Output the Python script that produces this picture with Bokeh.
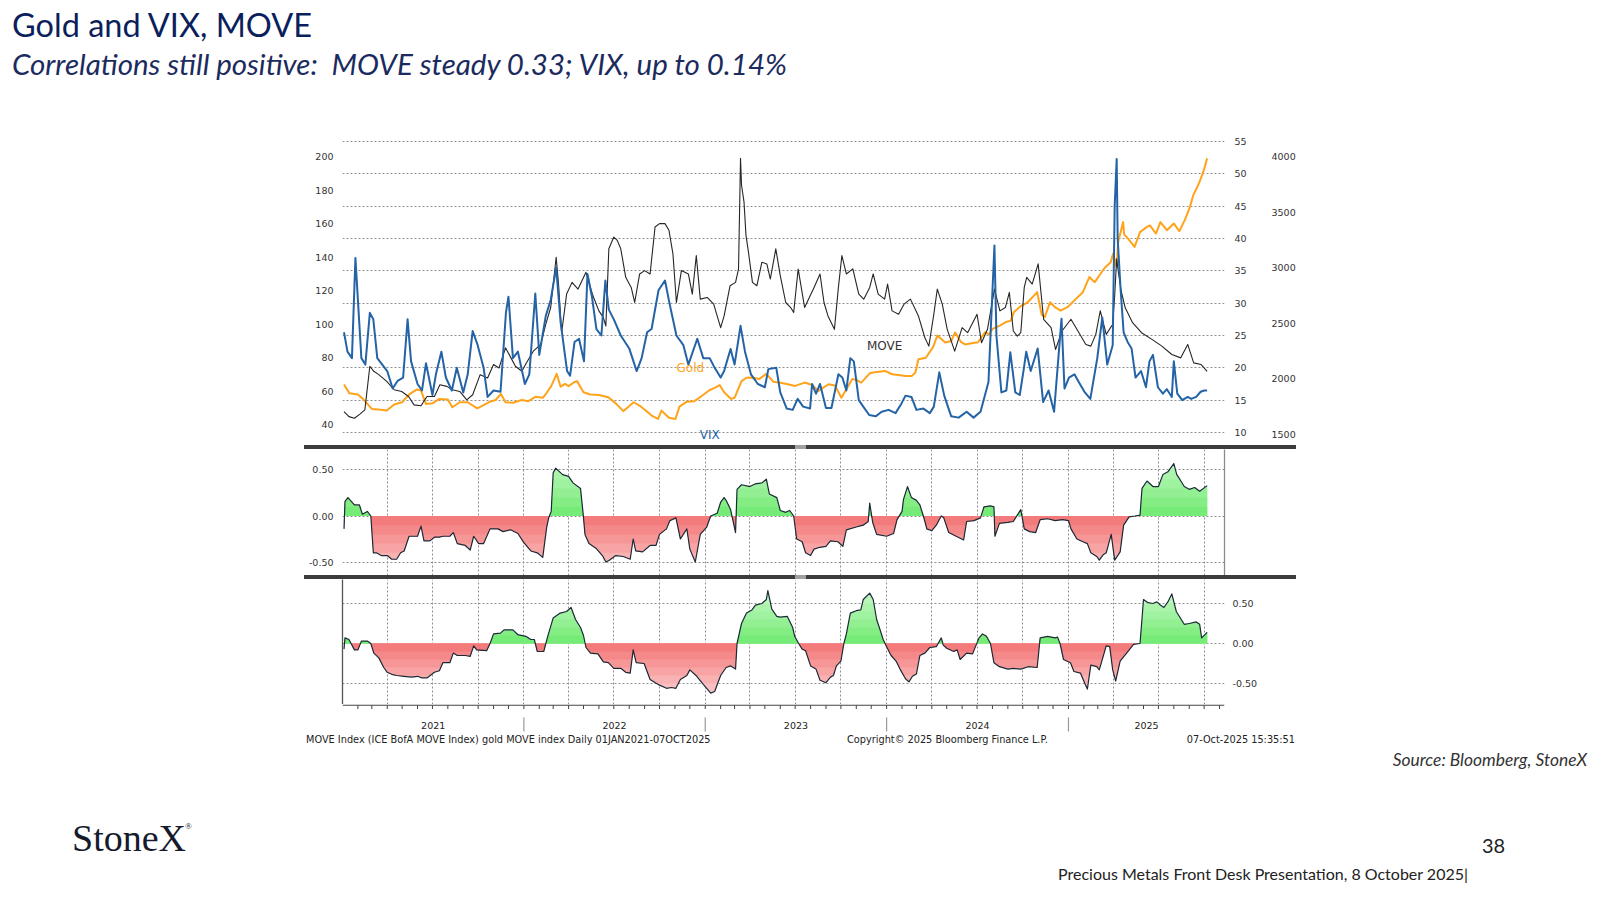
import numpy as np
import pandas as pd
from bokeh.plotting import figure
from bokeh.models import (Range1d, LinearAxis, FixedTicker, Grid, NumeralTickFormatter,
                          Div, Spacer)
from bokeh.layouts import column, row
from bokeh.core.properties import value
from bokeh.embed import file_html
from bokeh.resources import INLINE

# ------------------------------------------------------------------ data
vix_dates = [
    "2021-01-04","2021-01-11","2021-01-20","2021-01-27","2021-02-01","2021-02-08","2021-02-16","2021-02-25",
    "2021-03-04","2021-03-12","2021-03-22","2021-04-01","2021-04-12","2021-04-22","2021-05-03","2021-05-12",
    "2021-05-19","2021-06-01","2021-06-10","2021-06-18","2021-07-01","2021-07-08","2021-07-19","2021-07-28",
    "2021-08-09","2021-08-19","2021-09-01","2021-09-10","2021-09-20","2021-09-30","2021-10-12","2021-10-20",
    "2021-11-01","2021-11-15","2021-11-26","2021-12-01","2021-12-10","2021-12-20","2022-01-03","2022-01-12",
    "2022-01-24","2022-02-01","2022-02-14","2022-02-24","2022-03-07","2022-03-16","2022-03-29","2022-04-04",
    "2022-04-13","2022-04-22","2022-05-02","2022-05-09","2022-05-18","2022-05-27","2022-06-06","2022-06-14",
    "2022-06-21","2022-07-01","2022-07-15","2022-08-01","2022-08-16","2022-08-26","2022-09-06","2022-09-15",
    "2022-09-29","2022-10-12","2022-10-21","2022-11-04","2022-11-18","2022-11-28","2022-12-16","2022-12-28",
    "2023-01-10","2023-01-20","2023-02-01","2023-02-08","2023-02-21","2023-03-01","2023-03-13","2023-03-22",
    "2023-04-03","2023-04-17","2023-05-01","2023-05-08","2023-05-24","2023-06-01","2023-06-14","2023-06-26",
    "2023-07-06","2023-07-17","2023-07-31","2023-08-04","2023-08-12","2023-08-20","2023-09-01","2023-09-12",
    "2023-09-26","2023-10-04","2023-10-12","2023-10-20","2023-10-27","2023-11-06","2023-11-15","2023-11-27",
    "2023-12-10","2023-12-22","2024-01-05","2024-01-19","2024-01-31","2024-02-08","2024-02-20","2024-03-01",
    "2024-03-15","2024-03-28","2024-04-05","2024-04-16","2024-04-26","2024-05-10","2024-05-25","2024-06-10",
    "2024-06-24","2024-07-08","2024-07-24","2024-08-05","2024-08-09","2024-08-19","2024-08-29","2024-09-06",
    "2024-09-16","2024-09-25","2024-10-03","2024-10-08","2024-10-17","2024-10-31","2024-11-11","2024-11-22",
    "2024-12-03","2024-12-18","2024-12-24","2025-01-02","2025-01-13","2025-01-24","2025-02-03","2025-02-14",
    "2025-02-28","2025-03-10","2025-03-20","2025-03-31","2025-04-04","2025-04-08","2025-04-10","2025-04-16",
    "2025-04-22","2025-04-30","2025-05-08","2025-05-16","2025-05-27","2025-06-06","2025-06-13","2025-06-20",
    "2025-06-30","2025-07-10","2025-07-18","2025-07-28","2025-08-01","2025-08-08","2025-08-18","2025-08-29",
    "2025-09-05","2025-09-15","2025-09-24","2025-10-01","2025-10-07"]
vix_values = [
    25.5, 22.5, 21.5, 37.0, 30.5, 21.5, 20.5, 28.5,
    27.5, 21.5, 20.5, 19.5, 16.8, 18.0, 18.5, 27.5,
    21.0, 17.5, 16.5, 20.7, 15.8, 19.0, 22.5, 18.5,
    16.5, 20.0, 16.2, 19.0, 25.7, 23.5, 20.0, 15.5,
    16.5, 16.3, 28.6, 31.0, 21.5, 22.5, 17.5, 19.0,
    31.5, 22.0, 28.0, 30.5, 35.5, 27.0, 19.5, 18.8,
    24.0, 24.5, 21.0, 34.5, 31.0, 26.0, 25.0, 33.5,
    29.0, 27.5, 25.0, 23.0, 19.5, 21.5, 25.5, 26.0,
    32.0, 33.5, 30.0, 25.0, 23.5, 20.5, 24.5, 21.5,
    21.5, 20.0, 18.5, 19.5, 22.9, 20.5, 26.5, 22.5,
    19.0, 17.5, 17.0, 19.8, 20.0, 16.2, 13.7, 13.5,
    15.2, 14.0, 13.7, 17.5, 16.0, 17.5, 13.8, 13.8,
    19.0, 18.5, 16.5, 21.5, 21.0, 15.0, 14.0, 12.7,
    12.5, 13.2, 13.5, 13.0, 14.5, 15.7, 15.5, 13.5,
    13.7, 13.0, 14.0, 19.3, 15.7, 12.5, 12.3, 13.2,
    12.3, 13.2, 17.8, 38.9, 25.0, 16.2, 16.5, 22.4,
    16.2, 15.8, 19.8, 22.5, 19.5, 23.0, 14.7, 16.5,
    13.2, 27.6, 16.8, 18.5, 19.0, 17.5, 16.2, 15.2,
    21.5, 27.8, 20.5, 23.5, 45.0, 52.3, 40.0, 32.0,
    25.5, 24.0, 23.0, 18.5, 19.5, 17.0, 21.0, 22.0,
    17.0, 16.0, 16.7, 15.5, 21.0, 16.0, 15.0, 15.5,
    15.2, 15.5, 16.3, 16.5, 16.5]

move_dates = [
    "2021-01-04","2021-01-14","2021-01-25","2021-02-05","2021-02-15","2021-02-25","2021-03-05","2021-03-15",
    "2021-03-31","2021-04-15","2021-04-30","2021-05-14","2021-05-25","2021-06-08","2021-06-20","2021-07-05",
    "2021-07-16","2021-07-30","2021-08-10","2021-08-25","2021-09-08","2021-09-20","2021-10-05","2021-10-20",
    "2021-11-01","2021-11-12","2021-11-25","2021-12-06","2021-12-15","2021-12-28","2022-01-06","2022-01-20",
    "2022-02-04","2022-02-14","2022-02-24","2022-03-07","2022-03-12","2022-03-18","2022-03-28","2022-04-08",
    "2022-04-20","2022-05-06","2022-05-20","2022-06-01","2022-06-10","2022-06-15","2022-06-21","2022-07-01",
    "2022-07-08","2022-07-15","2022-07-25","2022-08-05","2022-08-12","2022-08-22","2022-09-01","2022-09-12",
    "2022-09-22","2022-10-01","2022-10-12","2022-10-20","2022-10-28","2022-11-04","2022-11-14","2022-11-28",
    "2022-12-06","2022-12-14","2022-12-22","2023-01-05","2023-01-18","2023-02-01","2023-02-08","2023-02-20",
    "2023-03-03","2023-03-09","2023-03-13","2023-03-15","2023-03-20","2023-03-24","2023-03-29","2023-04-06",
    "2023-04-15","2023-04-25","2023-05-05","2023-05-12","2023-05-23","2023-06-01","2023-06-12","2023-06-22",
    "2023-06-28","2023-07-07","2023-07-20","2023-08-08","2023-08-20","2023-08-28","2023-09-05","2023-09-18",
    "2023-09-26","2023-10-03","2023-10-12","2023-10-25","2023-11-06","2023-11-16","2023-11-28","2023-12-05",
    "2023-12-15","2023-12-28","2024-01-03","2024-01-12","2024-01-25","2024-02-05","2024-02-18","2024-03-05",
    "2024-03-18","2024-03-26","2024-04-05","2024-04-12","2024-04-22","2024-05-02","2024-05-17","2024-06-01",
    "2024-06-12","2024-07-01","2024-07-10","2024-07-22","2024-08-05","2024-08-16","2024-08-27","2024-09-04",
    "2024-09-12","2024-09-20","2024-09-27","2024-10-04","2024-10-09","2024-10-20","2024-11-01","2024-11-12",
    "2024-11-27","2024-12-06","2024-12-19","2025-01-06","2025-01-20","2025-02-05","2025-02-15","2025-02-25",
    "2025-03-06","2025-03-18","2025-03-31","2025-04-04","2025-04-08","2025-04-11","2025-04-17","2025-04-25",
    "2025-05-10","2025-05-28","2025-06-18","2025-07-08","2025-07-28","2025-08-15","2025-08-29","2025-09-10",
    "2025-09-25","2025-10-07"]
move_values = [
    48, 45, 44, 46.5, 49, 75, 72, 70,
    66, 61, 60, 57, 52, 51.5, 57, 57,
    64, 63, 61, 60, 55, 58, 70, 68,
    76, 74, 86, 80, 75, 72, 77, 84,
    88, 100, 110, 140, 123, 95, 118, 125,
    121, 131, 117, 108, 104, 99, 145, 152,
    150, 145, 128, 122, 113, 130, 132, 130,
    158, 160, 160, 156, 142, 113, 132, 130,
    118, 141, 115, 116, 112, 98, 105, 123,
    125, 133, 199, 183, 173, 153, 143, 125,
    123, 137, 136, 127, 145, 129, 113, 110,
    107, 133, 110, 122, 130, 113, 105, 97,
    122, 141, 130, 133, 118, 115, 122, 130,
    118, 115, 124, 108, 106, 112, 115, 105,
    92, 87, 106, 121, 112, 97, 84, 98,
    95, 106, 89, 97, 121, 108, 110, 119,
    96, 93, 95, 122, 128, 124, 136, 103,
    98, 85, 96, 103, 96, 88, 87, 94,
    108, 94, 100, 117, 139, 132, 120, 110,
    101, 95, 91, 87, 82, 80, 88, 77,
    76, 72]

gold_dates = [
    "2021-01-04","2021-01-15","2021-02-01","2021-02-12","2021-03-01","2021-03-15","2021-03-31","2021-04-15",
    "2021-05-01","2021-05-15","2021-05-31","2021-06-08","2021-06-18","2021-07-01","2021-07-15","2021-08-01",
    "2021-08-10","2021-08-25","2021-09-10","2021-09-29","2021-10-10","2021-10-25","2021-11-05","2021-11-16",
    "2021-11-25","2021-12-10","2021-12-28","2022-01-10","2022-01-25","2022-02-08","2022-02-16","2022-02-25",
    "2022-03-08","2022-03-16","2022-03-25","2022-04-01","2022-04-12","2022-04-18","2022-05-01","2022-05-15",
    "2022-06-01","2022-06-20","2022-07-05","2022-07-20","2022-08-10","2022-08-25","2022-09-15","2022-09-28",
    "2022-10-05","2022-10-20","2022-11-02","2022-11-10","2022-11-25","2022-12-10","2022-12-20","2023-01-10",
    "2023-01-20","2023-01-30","2023-02-08","2023-02-22","2023-03-01","2023-03-15","2023-03-25","2023-04-06",
    "2023-04-20","2023-05-04","2023-05-18","2023-06-01","2023-06-14","2023-07-01","2023-07-20","2023-08-04",
    "2023-08-17","2023-09-06","2023-09-19","2023-10-02","2023-10-12","2023-10-24","2023-11-02","2023-11-11",
    "2023-11-28","2023-12-08","2023-12-29","2024-01-12","2024-01-25","2024-02-08","2024-02-21","2024-02-28",
    "2024-03-05","2024-03-20","2024-04-04","2024-04-12","2024-04-28","2024-05-10","2024-05-18","2024-05-30",
    "2024-06-07","2024-06-20","2024-07-03","2024-07-17","2024-07-25","2024-08-01","2024-08-16","2024-08-27",
    "2024-09-07","2024-09-13","2024-09-27","2024-10-10","2024-10-30","2024-11-08","2024-11-14","2024-11-25",
    "2024-12-05","2024-12-16","2024-12-30","2025-01-16","2025-01-30","2025-02-12","2025-02-23","2025-03-04",
    "2025-03-15","2025-03-27","2025-04-01","2025-04-08","2025-04-11","2025-04-21","2025-04-23","2025-05-01",
    "2025-05-14","2025-05-25","2025-06-08","2025-06-14","2025-06-26","2025-07-05","2025-07-18","2025-08-01",
    "2025-08-12","2025-08-23","2025-09-02","2025-09-09","2025-09-16","2025-09-22","2025-09-30","2025-10-07"]
gold_values = [
    1950, 1870, 1860, 1816, 1730, 1725, 1715, 1770,
    1790, 1860, 1905, 1895, 1775, 1780, 1820, 1815,
    1745, 1790, 1790, 1735, 1760, 1795, 1810, 1865,
    1790, 1785, 1810, 1800, 1840, 1830, 1875, 1935,
    2045, 1930, 1955, 1935, 1970, 1980, 1880, 1860,
    1855, 1835, 1780, 1710, 1790, 1750, 1670, 1640,
    1715, 1650, 1640, 1750, 1795, 1800, 1830, 1900,
    1920, 1945, 1880, 1820, 1830, 1980, 2010, 2012,
    2000, 2045, 1975, 1965, 1955, 1937, 1967, 1945,
    1892, 1952, 1940, 1831, 1906, 2000, 1990, 1967,
    2050, 2060, 2072, 2042, 2035, 2027, 2027, 2057,
    2177, 2190, 2290, 2390, 2328, 2340, 2418, 2330,
    2310, 2320, 2330, 2420, 2400, 2450, 2479, 2509,
    2524, 2600, 2655, 2685, 2780, 2580, 2554, 2690,
    2645, 2614, 2645, 2720, 2780, 2916, 2870, 2930,
    3000, 3050, 3127, 3006, 3232, 3410, 3300, 3262,
    3187, 3320, 3367, 3380, 3307, 3410, 3337, 3398,
    3328, 3428, 3540, 3650, 3714, 3774, 3870, 3985]

corr_move_dates = [
    "2021-01-04","2021-01-06","2021-01-12","2021-01-25","2021-02-04","2021-02-10","2021-02-20","2021-02-27",
    "2021-03-04","2021-03-10","2021-03-20","2021-04-01","2021-04-10","2021-04-20","2021-04-28","2021-05-05",
    "2021-05-15","2021-06-01","2021-06-08","2021-06-14","2021-06-26","2021-07-05","2021-07-15","2021-07-22",
    "2021-08-05","2021-08-12","2021-08-20","2021-09-05","2021-09-15","2021-09-22","2021-10-02","2021-10-12",
    "2021-10-25","2021-11-10","2021-11-20","2021-12-05","2021-12-20","2022-01-01","2022-01-15","2022-01-28",
    "2022-02-08","2022-02-16","2022-02-20","2022-02-25","2022-03-01","2022-03-06","2022-03-20","2022-04-01",
    "2022-04-10","2022-04-25","2022-04-30","2022-05-04","2022-05-12","2022-05-26","2022-06-08","2022-06-15",
    "2022-06-22","2022-07-05","2022-07-20","2022-08-03","2022-08-09","2022-08-14","2022-08-28","2022-09-12",
    "2022-09-24","2022-10-01","2022-10-15","2022-10-22","2022-11-03","2022-11-12","2022-11-25","2022-12-01",
    "2022-12-12","2022-12-22","2023-01-04","2023-01-12","2023-01-25","2023-02-01","2023-02-08","2023-02-12",
    "2023-02-21","2023-03-03","2023-03-06","2023-03-15","2023-04-01","2023-04-12","2023-04-25","2023-05-04",
    "2023-05-10","2023-05-25","2023-06-01","2023-06-12","2023-06-20","2023-06-28","2023-07-04","2023-07-15",
    "2023-07-22","2023-08-01","2023-08-08","2023-08-20","2023-09-01","2023-09-10","2023-09-25","2023-10-05",
    "2023-10-12","2023-11-01","2023-11-15","2023-11-25","2023-11-28","2023-12-04","2023-12-12","2024-01-01",
    "2024-01-15","2024-01-22","2024-02-01","2024-02-04","2024-02-12","2024-02-20","2024-03-01","2024-03-08",
    "2024-03-15","2024-03-22","2024-04-01","2024-04-10","2024-04-20","2024-04-25","2024-05-05","2024-05-20",
    "2024-06-04","2024-06-10","2024-06-25","2024-07-08","2024-07-15","2024-07-28","2024-08-04","2024-08-06",
    "2024-08-15","2024-09-01","2024-09-12","2024-09-27","2024-10-04","2024-10-15","2024-10-27","2024-11-05",
    "2024-11-20","2024-12-05","2024-12-20","2025-01-01","2025-01-06","2025-01-18","2025-01-30","2025-02-08",
    "2025-02-15","2025-02-27","2025-03-04","2025-03-12","2025-03-18","2025-03-28","2025-04-04","2025-04-15",
    "2025-04-22","2025-05-03","2025-05-15","2025-05-25","2025-05-29","2025-06-08","2025-06-20","2025-07-01",
    "2025-07-10","2025-07-20","2025-08-01","2025-08-07","2025-08-13","2025-08-22","2025-09-01","2025-09-12",
    "2025-09-22","2025-10-07"]
corr_move_values = [
    -0.14, 0.16, 0.20, 0.12, 0.12, 0.02, 0.05, 0.00,
    -0.40, -0.40, -0.43, -0.43, -0.47, -0.47, -0.40, -0.38,
    -0.22, -0.22, -0.11, -0.27, -0.27, -0.23, -0.23, -0.22,
    -0.22, -0.18, -0.30, -0.32, -0.37, -0.22, -0.30, -0.30,
    -0.14, -0.14, -0.17, -0.15, -0.19, -0.29, -0.38, -0.40,
    -0.45, -0.12, -0.02, 0.05, 0.47, 0.52, 0.45, 0.43,
    0.36, 0.30, 0.04, -0.20, -0.30, -0.35, -0.43, -0.50,
    -0.48, -0.43, -0.44, -0.47, -0.25, -0.38, -0.39, -0.32,
    -0.32, -0.20, -0.14, -0.05, -0.02, -0.25, -0.14, -0.36,
    -0.50, -0.20, -0.12, 0.00, 0.03, 0.15, 0.20, 0.17,
    0.07, -0.18, 0.29, 0.34, 0.32, 0.35, 0.36, 0.40,
    0.24, 0.20, 0.06, 0.04, 0.06, 0.00, -0.25, -0.28,
    -0.40, -0.43, -0.36, -0.34, -0.33, -0.27, -0.28, -0.33,
    -0.15, -0.12, -0.10, -0.06, 0.14, -0.07, -0.20, -0.22,
    -0.19, -0.04, 0.05, 0.18, 0.32, 0.20, 0.17, 0.12,
    0.00, -0.14, -0.16, -0.10, 0.00, -0.02, -0.18, -0.22,
    -0.26, -0.06, -0.05, -0.02, 0.10, 0.11, 0.10, -0.22,
    -0.08, -0.07, -0.06, 0.07, -0.14, -0.17, -0.18, -0.04,
    -0.03, -0.05, -0.04, -0.05, -0.14, -0.25, -0.28, -0.30,
    -0.40, -0.44, -0.48, -0.42, -0.40, -0.20, -0.48, -0.39,
    -0.10, -0.01, 0.00, 0.01, 0.30, 0.38, 0.32, 0.32,
    0.45, 0.48, 0.57, 0.45, 0.40, 0.32, 0.29, 0.31,
    0.27, 0.33]

corr_vix_dates = [
    "2021-01-04","2021-01-06","2021-01-14","2021-01-25","2021-02-01","2021-02-08","2021-02-20","2021-02-27",
    "2021-03-05","2021-03-15","2021-03-25","2021-04-01","2021-04-12","2021-04-20","2021-05-05","2021-05-20",
    "2021-06-01","2021-06-10","2021-06-20","2021-07-05","2021-07-15","2021-07-22","2021-08-05","2021-08-12",
    "2021-08-20","2021-09-05","2021-09-15","2021-09-22","2021-09-28","2021-10-18","2021-10-25","2021-11-01",
    "2021-11-15","2021-11-22","2021-12-10","2021-12-20","2022-01-05","2022-01-15","2022-01-22","2022-01-28",
    "2022-02-10","2022-02-18","2022-03-01","2022-03-15","2022-03-28","2022-04-06","2022-04-15","2022-04-25",
    "2022-05-01","2022-05-06","2022-05-15","2022-05-30","2022-06-10","2022-06-20","2022-07-01","2022-07-15",
    "2022-07-25","2022-08-03","2022-08-09","2022-08-15","2022-08-31","2022-09-12","2022-09-25","2022-10-01",
    "2022-10-15","2022-10-25","2022-11-03","2022-11-12","2022-11-25","2022-12-01","2022-12-15","2022-12-28",
    "2023-01-12","2023-01-20","2023-02-01","2023-02-12","2023-02-21","2023-03-03","2023-03-06","2023-03-15",
    "2023-03-25","2023-04-05","2023-04-12","2023-04-25","2023-05-04","2023-05-07","2023-05-15","2023-05-25",
    "2023-06-01","2023-06-15","2023-06-26","2023-06-30","2023-07-08","2023-07-15","2023-07-22","2023-08-01",
    "2023-08-12","2023-08-20","2023-09-01","2023-09-10","2023-09-16","2023-09-22","2023-10-01","2023-10-07",
    "2023-10-12","2023-10-20","2023-11-01","2023-11-10","2023-11-15","2023-11-28","2023-12-05","2023-12-12",
    "2023-12-20","2023-12-25","2024-01-01","2024-01-10","2024-01-20","2024-01-28","2024-02-08","2024-02-15",
    "2024-02-22","2024-03-01","2024-03-08","2024-03-18","2024-03-28","2024-04-10","2024-04-20","2024-04-24",
    "2024-05-01","2024-05-15","2024-05-22","2024-05-28","2024-06-10","2024-06-22","2024-07-05","2024-07-12",
    "2024-07-20","2024-07-28","2024-08-04","2024-08-15","2024-09-01","2024-09-12","2024-09-27","2024-10-12",
    "2024-10-30","2024-11-05","2024-11-20","2024-12-05","2024-12-10","2024-12-15","2024-12-22","2025-01-05",
    "2025-01-12","2025-01-25","2025-02-03","2025-02-08","2025-02-15","2025-02-27","2025-03-04","2025-03-18",
    "2025-03-25","2025-03-31","2025-04-06","2025-04-15","2025-04-28","2025-05-12","2025-05-25","2025-06-01",
    "2025-06-10","2025-06-20","2025-06-28","2025-07-05","2025-07-12","2025-07-20","2025-07-28","2025-08-06",
    "2025-08-12","2025-08-22","2025-09-01","2025-09-15","2025-09-22","2025-09-26","2025-10-07"]
corr_vix_values = [
    -0.07, 0.07, 0.05, -0.08, -0.08, 0.03, 0.03, 0.00,
    -0.12, -0.18, -0.30, -0.36, -0.39, -0.40, -0.41, -0.42,
    -0.41, -0.43, -0.43, -0.36, -0.34, -0.24, -0.24, -0.12,
    -0.15, -0.15, -0.16, -0.03, -0.08, -0.09, 0.00, 0.12,
    0.13, 0.17, 0.17, 0.11, 0.09, 0.05, 0.05, -0.10,
    -0.10, 0.09, 0.32, 0.38, 0.40, 0.45, 0.30, 0.20,
    0.10, -0.05, -0.12, -0.13, -0.23, -0.24, -0.31, -0.31,
    -0.36, -0.37, -0.08, -0.24, -0.25, -0.45, -0.50, -0.52,
    -0.56, -0.55, -0.56, -0.45, -0.40, -0.33, -0.41, -0.51,
    -0.62, -0.60, -0.40, -0.30, -0.28, -0.32, 0.00, 0.25,
    0.38, 0.42, 0.48, 0.50, 0.55, 0.66, 0.43, 0.34,
    0.33, 0.34, 0.20, 0.09, 0.00, -0.07, -0.09, -0.28,
    -0.32, -0.46, -0.49, -0.42, -0.40, -0.28, -0.22, 0.00,
    0.12, 0.38, 0.41, 0.42, 0.55, 0.63, 0.55, 0.30,
    0.15, 0.05, -0.04, -0.15, -0.22, -0.32, -0.44, -0.48,
    -0.41, -0.38, -0.15, -0.12, -0.05, -0.04, 0.07, -0.02,
    -0.06, -0.10, -0.08, -0.20, -0.12, -0.13, 0.07, 0.12,
    0.09, 0.00, -0.24, -0.29, -0.32, -0.31, -0.32, -0.29,
    -0.30, 0.07, 0.09, 0.07, 0.08, 0.00, -0.20, -0.24,
    -0.35, -0.37, -0.50, -0.57, -0.27, -0.29, -0.33, -0.03,
    -0.04, -0.33, -0.47, -0.22, -0.12, -0.01, 0.00, 0.55,
    0.51, 0.50, 0.52, 0.48, 0.45, 0.52, 0.62, 0.40,
    0.34, 0.24, 0.25, 0.27, 0.24, 0.07, 0.14]

move_ticks = [40, 60, 80, 100, 120, 140, 160, 180, 200]
vix_ticks = [10, 15, 20, 25, 30, 35, 40, 45, 50, 55]
gold_ticks = [1500, 2000, 2500, 3000, 3500, 4000]
corr_ticks = [-0.5, 0.0, 0.5]
year_labels = ["2021", "2022", "2023", "2024", "2025"]

title_text = "Gold and VIX, MOVE"
subtitle_text = "Correlations still positive:  MOVE steady 0.33; VIX, up to 0.14%"
bbg_left = "MOVE Index (ICE BofA MOVE Index) gold MOVE index Daily 01JAN2021-07OCT2025"
bbg_mid = "Copyright\u00a9 2025 Bloomberg Finance L.P."
bbg_right = "07-Oct-2025 15:35:51"
source_text = "Source: Bloomberg, StoneX"
page_no = "38"
footer_text = "Precious Metals Front Desk Presentation, 8 October 2025|"

assert len(vix_dates) == len(vix_values)
assert len(move_dates) == len(move_values)
assert len(gold_dates) == len(gold_values)
assert len(corr_move_dates) == len(corr_move_values)
assert len(corr_vix_dates) == len(corr_vix_values)

# ------------------------------------------------------------------ helpers
def to_ms(dates):
    return (pd.to_datetime(dates).astype("int64") // 10**6).to_numpy().astype(float)

X_START = to_ms(["2021-01-01"])[0]
X_END = to_ms(["2025-11-11"])[0]
xr = Range1d(X_START, X_END)

PAGE_W = 1596
FW = 882
BL, BR = 342, PAGE_W - 342 - 882
TICK_FONT = "DejaVu Sans"
GRID_COL = "#8f8f8f"

VIX_COL = "#2463a6"
MOVE_COL = "#262626"
GOLD_COL = "#ffa31a"


def chart(fh, yr):
    p = figure(frame_width=FW, frame_height=fh, x_range=xr, y_range=yr,
               x_axis_location=None, y_axis_location=None,
               output_backend="svg", toolbar_location=None,
               min_border_left=BL, min_border_right=BR,
               min_border_top=0, min_border_bottom=0,
               outline_line_color=None, background_fill_color="white",
               border_fill_color="white")
    p.xgrid.visible = False
    p.ygrid.visible = False
    return p


def label_axis(ax, standoff):
    ax.axis_line_color = None
    ax.major_tick_line_color = None
    ax.minor_tick_line_color = None
    ax.major_tick_out = 0
    ax.major_tick_in = 0
    ax.minor_tick_out = 0
    ax.minor_tick_in = 0
    ax.major_label_standoff = standoff
    ax.major_label_text_font = TICK_FONT
    ax.major_label_text_font_size = "9.5px"
    ax.major_label_text_color = "#333333"
    return ax


def line_axis(ax, color):
    ax.axis_line_color = color
    ax.axis_line_width = 1.3
    ax.major_tick_line_color = None
    ax.minor_tick_line_color = None
    ax.major_tick_out = 0
    ax.major_tick_in = 0
    ax.minor_tick_out = 0
    ax.minor_tick_in = 0
    ax.major_label_standoff = 0
    return ax


LEVELS = [round(0.1 * i, 1) for i in range(-9, 10)]


def refine(x, v):
    xs, vs = [x[0]], [v[0]]
    for i in range(1, len(v)):
        a, b = v[i - 1], v[i]
        if a != b:
            lo, hi = min(a, b), max(a, b)
            fr = sorted((L - a) / (b - a) for L in LEVELS if lo < L < hi)
            for f in fr:
                xs.append(x[i - 1] + f * (x[i] - x[i - 1]))
                vs.append(a + f * (b - a))
        xs.append(x[i])
        vs.append(b)
    return np.array(xs), np.array(vs)


def mix(c0, c1, f):
    f = min(max(f, 0.0), 1.0)
    return "#%02x%02x%02x" % tuple(int(round(c0[k] + (c1[k] - c0[k]) * f)) for k in range(3))


G0, G1 = (112, 234, 112), (206, 249, 206)
R0, R1 = (243, 116, 116), (253, 212, 212)


def corr_panel(p, dates, vals):
    x = to_ms(dates)
    v = np.array(vals, dtype=float)
    xf, vf = refine(x, v)
    zero = np.zeros(len(vf))
    for i in range(8, -1, -1):
        hi = 0.1 * (i + 1)
        f = (0.1 * i + 0.05) / 0.7
        p.varea(x=xf, y1=zero, y2=np.clip(vf, 0, hi), fill_color=mix(G0, G1, f), fill_alpha=1.0)
        p.varea(x=xf, y1=np.clip(vf, -hi, 0), y2=zero, fill_color=mix(R0, R1, f), fill_alpha=1.0)
    p.line(x, v, line_color="#1c2a38", line_width=1.2, line_join="round")


def corr_grids(p):
    p.add_layout(Grid(dimension=1, ticker=FixedTicker(ticks=corr_ticks),
                      grid_line_color=GRID_COL, grid_line_dash="2 2", grid_line_width=1))
    q = pd.date_range("2021-04-01", "2025-10-01", freq="QS")
    p.add_layout(Grid(dimension=0, ticker=FixedTicker(ticks=list(to_ms(q))),
                      grid_line_color=GRID_COL, grid_line_dash="2 2", grid_line_width=1))


def span(txt, css):
    return ('<span style="position:absolute;white-space:pre;line-height:1;margin:0;padding:0;'
            + css + '">' + txt + '</span>')


def text_block(spans, h):
    html = ('<div style="position:relative;width:%dpx;height:%dpx;overflow:hidden;">' % (PAGE_W, h)
            + "".join(spans) + "</div>")
    return Div(text=html, width=PAGE_W, height=h, margin=0)

# ------------------------------------------------------------------ header (slide title)
HDR_H = 136
hdr = text_block([
    span(title_text, "left:12px;top:9px;font-family:Lato;font-size:32.5px;color:#0b1f5c;"),
    span(subtitle_text, "left:12px;top:49px;font-family:Lato;font-style:italic;font-size:29.5px;color:#1b2b5e;"),
], HDR_H)

# ------------------------------------------------------------------ top panel
top = chart(309, Range1d(7.99, 55.773))
top.extra_y_ranges = {"move": Range1d(27.78, 211.92), "gold": Range1d(1401.1, 4179.9)}
top.add_layout(Grid(dimension=1, ticker=FixedTicker(ticks=vix_ticks),
                    grid_line_color=GRID_COL, grid_line_dash="2 2", grid_line_width=1))
top.add_layout(label_axis(LinearAxis(y_range_name="move", ticker=FixedTicker(ticks=move_ticks)), 9), "left")
top.add_layout(label_axis(LinearAxis(ticker=FixedTicker(ticks=vix_ticks)), 10), "right")
top.add_layout(label_axis(LinearAxis(y_range_name="gold", ticker=FixedTicker(ticks=gold_ticks)), 22), "right")

top.line(to_ms(gold_dates), gold_values, y_range_name="gold", line_color=GOLD_COL,
         line_width=2, line_join="round")
top.line(to_ms(move_dates), move_values, y_range_name="move", line_color=MOVE_COL,
         line_width=1.1, line_join="round")
top.line(to_ms(vix_dates), vix_values, line_color=VIX_COL, line_width=2, line_join="round")

top.text(x=to_ms(["2022-12-02"]), y=[2098], text=["Gold"], y_range_name="gold",
         text_font=value(TICK_FONT), text_font_size="12px", text_color=GOLD_COL,
         text_align="center", text_baseline="middle")
top.text(x=to_ms(["2023-01-10"]), y=[9.55], text=["VIX"],
         text_font=value(TICK_FONT), text_font_size="12px", text_color=VIX_COL,
         text_align="center", text_baseline="middle")
top.text(x=to_ms(["2023-12-28"]), y=[86.9], text=["MOVE"], y_range_name="move",
         text_font=value(TICK_FONT), text_font_size="12px", text_color="#333333",
         text_align="center", text_baseline="middle")

# ------------------------------------------------------------------ separators (with handle mark)
def separator():
    dark = {"background-color": "#3c3c3c"}
    return row(Spacer(width=304, height=4),
               Div(text="", width=491, height=4, margin=0, styles=dark),
               Div(text="", width=11, height=4, margin=0, styles={"background-color": "#a0a0a0"}),
               Div(text="", width=490, height=4, margin=0, styles=dark))

# ------------------------------------------------------------------ middle panel (Gold vs MOVE)
mid = chart(126, Range1d(-0.6467, 0.7228))
corr_grids(mid)
lax = label_axis(LinearAxis(ticker=FixedTicker(ticks=corr_ticks)), 9)
lax.formatter = NumeralTickFormatter(format="0.00")
mid.add_layout(lax, "left")
mid.add_layout(line_axis(LinearAxis(ticker=FixedTicker(ticks=[])), "#8a8a8a"), "right")
corr_panel(mid, corr_move_dates, corr_move_values)

# ------------------------------------------------------------------ bottom panel (Gold vs VIX)
bot = chart(125, Range1d(-0.7625, 0.8))
corr_grids(bot)
bot.add_layout(line_axis(LinearAxis(ticker=FixedTicker(ticks=[])), "#555555"), "left")
rax = label_axis(LinearAxis(ticker=FixedTicker(ticks=corr_ticks)), 8)
rax.formatter = NumeralTickFormatter(format="0.00")
bot.add_layout(rax, "right")
corr_panel(bot, corr_vix_dates, corr_vix_values)

# ------------------------------------------------------------------ date axis strip
yrs = chart(28, Range1d(28, 0))
months = to_ms(pd.date_range("2021-02-01", "2025-11-01", freq="MS"))
yrs.segment(x0=[X_START], y0=[0.7], x1=[X_END], y1=[0.7], line_color="#444444", line_width=1.3)
yrs.segment(x0=months, y0=[0.7] * len(months), x1=months, y1=[4.5] * len(months),
            line_color="#444444", line_width=1)
year_starts = to_ms(["2021-01-01", "2022-01-01", "2023-01-01", "2024-01-01", "2025-01-01"])
year_ends = np.minimum(to_ms(["2022-01-01", "2023-01-01", "2024-01-01", "2025-01-01", "2026-01-01"]), X_END)
yrs.text(x=(year_starts + year_ends) / 2, y=[21] * 5, text=year_labels,
         text_font=value(TICK_FONT), text_font_size="9.5px", text_color="#222222",
         text_align="center", text_baseline="middle")
yrs.segment(x0=year_starts[1:], y0=[13] * 4, x1=year_starts[1:], y1=[27] * 4,
            line_color="#9a9a9a", line_width=1.2)

# ------------------------------------------------------------------ footer
FTR_H = 164
bb = "font-family:'DejaVu Sans';font-size:9.75px;color:#222222;top:3px;"
ftr = text_block([
    span(bbg_left, "left:306px;" + bb),
    span(bbg_mid, "left:847px;" + bb),
    span(bbg_right, "right:%dpx;" % (PAGE_W - 1295) + bb),
    span(source_text, "right:%dpx;top:18.5px;font-family:Lato;font-style:italic;font-size:17.4px;color:#333333;"
         % (PAGE_W - 1587)),
    span("StoneX", "left:72px;top:87px;font-family:'Liberation Serif';font-size:38px;color:#151a2c;"),
    span("\u00ae", "left:185px;top:90px;font-family:'Liberation Serif';font-size:9px;color:#151a2c;"),
    span(page_no, "left:1482px;top:102.5px;font-family:Lato;font-size:20px;color:#222222;"),
    span(footer_text, "right:%dpx;top:133.8px;font-family:Lato;font-size:16px;color:#222222;"
         % (PAGE_W - 1468)),
], FTR_H)

layout = column(hdr, top, separator(), mid, separator(), bot, yrs, ftr)

open("out.html", "w").write(file_html(layout, INLINE))
